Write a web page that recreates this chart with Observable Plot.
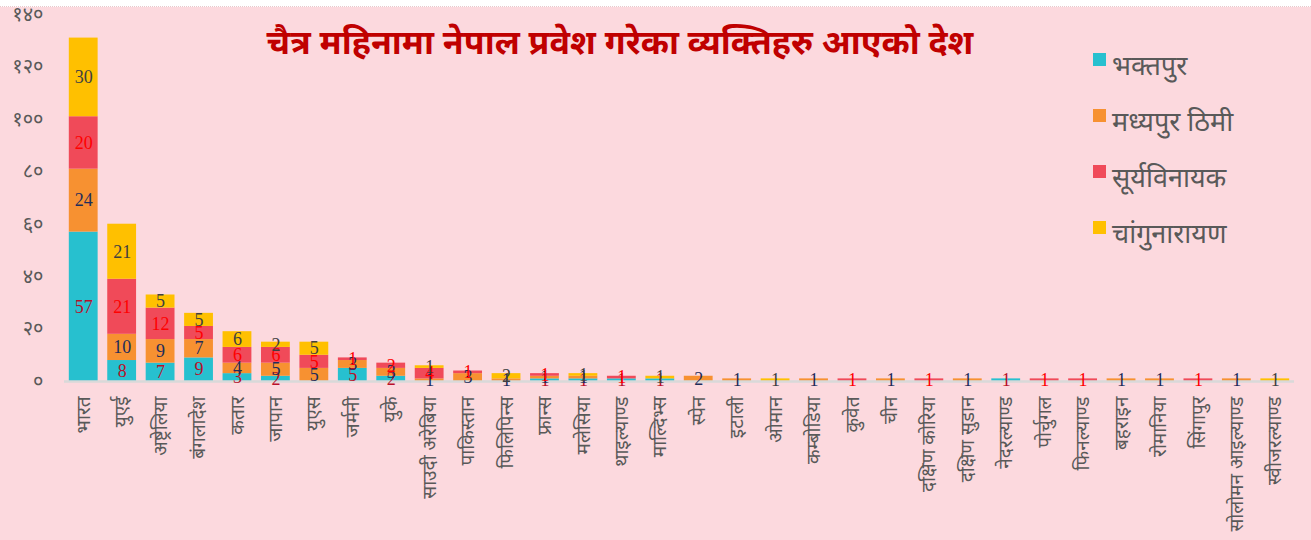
<!DOCTYPE html>
<html>
<head>
<meta charset="utf-8">
<script src="https://cdn.jsdelivr.net/npm/d3@7"></script>
<script src="https://cdn.jsdelivr.net/npm/@observablehq/plot@0.6"></script>
<style>
  html, body { margin: 0; padding: 0; background: #fcd9de; }
  #wrap { position: relative; width: 1311px; height: 540px; overflow: hidden; }
  #topstrip { position: absolute; left: 0; top: 0; width: 1311px; height: 6px; background: #fff; border-bottom: 1px dotted #e8c8cc; }
  #title { position: absolute; left: 0; width: 1240px; top: 18px; text-align: center;
    font-family: "Noto Sans", sans-serif; font-weight: bold; font-size: 34px; color: #c00000; white-space: nowrap; }
  #legend { position: absolute; left: 1093px; top: 48px; font-family: "Noto Sans", sans-serif;
    font-size: 27px; color: #595959; }
  .item { position: relative; height: 56px; }
  .sw { position: absolute; left: 0; top: 5px; width: 13px; height: 13px; }
  .lab { position: absolute; left: 19px; top: 0px; white-space: nowrap; line-height: 34px; }
  svg { position: absolute; left: 0; top: 0; }
</style>
</head>
<body>
<div id="wrap">
  <div id="chart"></div>
  <div id="topstrip"></div>
  <div id="title"></div>
  <div id="legend"></div>
</div>
<script>
const titleText = "चैत्र महिनामा नेपाल प्रवेश गरेका व्यक्तिहरु आएको देश";
const countries = ["भारत","युएई","अष्ट्रेलिया","बंगलादेश","कतार","जापान","युएस","जर्मनी","युके","साउदी अरेबिया","पाकिस्तान","फिलिपिन्स","फ्रान्स","मलेसिया","थाइल्याण्ड","माल्दिभ्स","स्पेन","इटाली","ओमान","कम्बोडिया","कुवेत","चीन","दक्षिण कोरिया","दक्षिण सुडान","नेदरल्याण्ड","पोर्चुगल","फिनल्याण्ड","बहराइन","रोमानिया","सिंगापुर","सोलोमन आइल्याण्ड","स्वीजरल्याण्ड"];
const seriesNames = ["भक्तपुर","मध्यपुर ठिमी","सूर्यविनायक","चांगुनारायण"];
const bhaktapur     = [57, 8, 7, 9, 3, 2, 0, 5, 2, 0, 0, 0, 1, 1, 1, 1, 0, 0, 0, 0, 0, 0, 0, 0, 1, 0, 0, 0, 0, 0, 0, 0];
const madhyapur     = [24,10, 9, 7, 4, 5, 5, 3, 3, 1, 3, 1, 1, 1, 0, 0, 2, 1, 0, 1, 0, 1, 0, 1, 0, 0, 0, 1, 1, 0, 1, 0];
const suryabinayak  = [20,21,12, 5, 6, 6, 5, 1, 2, 4, 1, 0, 1, 0, 1, 0, 0, 0, 0, 0, 1, 0, 1, 0, 0, 1, 1, 0, 0, 1, 0, 0];
const changunarayan = [30,21, 5, 5, 6, 2, 5, 0, 0, 1, 0, 2, 0, 1, 0, 1, 0, 0, 1, 0, 0, 0, 0, 0, 0, 0, 0, 0, 0, 0, 0, 1];
const yTicks = [0, 20, 40, 60, 80, 100, 120, 140];
const seriesColors = ["#27c0cf", "#f79131", "#f04a59", "#ffc000"];
const labelColors  = ["#b8102a", "#1f2d5a", "#ff0000", "#404040"];

const seriesValues = [bhaktapur, madhyapur, suryabinayak, changunarayan];
const data = [];
countries.forEach((c, i) => {
  seriesNames.forEach((s, j) => data.push({country: c, series: s, value: seriesValues[j][i]}));
});

const devDigits = "०१२३४५६७८९";
const toDev = d => String(d).replace(/\d/g, ch => devDigits[ch]);

const labelMarks = seriesNames.map((s, j) =>
  Plot.text(data, Plot.filter(d => d.series === s && d.value > 0,
    Plot.stackY({x: "country", y: "value", z: "series", text: "value",
      fill: labelColors[j], fontSize: 18, fontFamily: "Liberation Serif, serif"})))
);

const chart = Plot.plot({
  width: 1311,
  height: 540,
  marginLeft: 64,
  marginRight: 17,
  marginTop: 14,
  marginBottom: 159,
  style: {background: "transparent", fontFamily: "Noto Sans, sans-serif"},
  x: {domain: countries, paddingInner: 0.25, paddingOuter: 0.125, round: false, label: null},
  y: {domain: [0, 140], ticks: yTicks, tickFormat: toDev, label: null},
  color: {domain: seriesNames, range: seriesColors},
  marks: [
    Plot.axisX({tickRotate: -90, tickSize: 0, tickPadding: 15, fontSize: 19, color: "#595959", label: null}),
    Plot.axisY({ticks: yTicks, tickFormat: toDev, tickSize: 0, tickPadding: 21, fontSize: 20, color: "#595959", label: null}),
    Plot.barY(data, Plot.stackY({x: "country", y: "value", z: "series", fill: "series"})),
    Plot.ruleY([0], {stroke: "#d9d9d9", strokeWidth: 2.5}),
    ...labelMarks
  ]
});
document.getElementById("chart").appendChild(chart);

document.getElementById("title").textContent = titleText;
const legend = document.getElementById("legend");
seriesNames.forEach((s, j) => {
  const it = document.createElement("div");
  it.className = "item";
  it.innerHTML = `<div class="sw" style="background:${seriesColors[j]}"></div><div class="lab">${s}</div>`;
  legend.appendChild(it);
});
</script>
</body>
</html>
